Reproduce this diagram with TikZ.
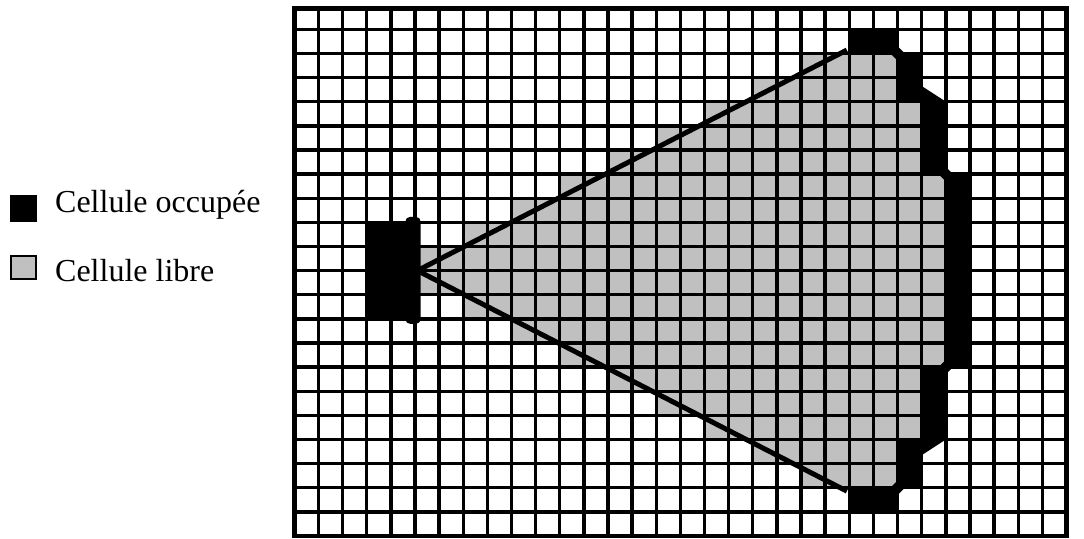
\documentclass[tikz,border=0pt]{standalone}
\usepackage{fontspec}
\setmainfont{Liberation Serif}
\definecolor{cellgray}{RGB}{192,192,192}
\tikzset{
  gridline/.style={line width=3.4pt, black},
  frameline/.style={line width=4.5pt, black},
  freecell/.style={fill=cellgray},
  occcell/.style={fill=black},
  beam/.style={line width=5pt, black},
  legtext/.style={inner sep=0pt, font=\fontsize{32}{38}\selectfont}
}
\begin{document}
\begin{tikzpicture}[x=24.13pt,y=-24.13pt]
\useasboundingbox (-12.196,-0.214) rectangle (32.727,22.123);
% free (gray) cells
\foreach \r/\a/\b in {2/21/24,3/19/24,4/17/25,5/15/25,6/13/25,7/11/26,8/9/26,9/7/26,10/5/26,11/5/26,12/7/26,13/9/26,14/11/26,15/13/25,16/15/25,17/17/25,18/19/24,19/21/24}
  \fill[freecell] (\a,\r) rectangle (\b+1,\r+1);
% grid
\foreach \j in {1,...,31} \draw[gridline] (\j,0.146) -- (\j,22);
\foreach \k in {1,...,21} \draw[gridline] (0,\k) -- (32,\k);
\draw[frameline] (0,0.146) rectangle (32,22);
% occupied cells
\fill[occcell, rounded corners=3pt] (23,1) rectangle (25.05,2.02);
\fill[occcell] (25,2) +(-0.3,0) -- +(0,-0.3) -- +(0.3,0) -- +(0,0.3) -- cycle;
\fill[occcell] (24.97,1.98) rectangle (26,4.02);
\fill[occcell] (26,3.35) -- (27,4) -- (26,4.05) -- cycle;
\fill[occcell] (26,4) rectangle (27,7);
\fill[occcell] (27,7) +(-0.3,0) -- +(0,-0.3) -- +(0.3,0) -- +(0,0.3) -- cycle;
\fill[occcell] (27,7) rectangle (28,15);
\fill[occcell] (27,15) +(-0.3,0) -- +(0,-0.3) -- +(0.3,0) -- +(0,0.3) -- cycle;
\fill[occcell] (26,15) rectangle (27,18);
\fill[occcell] (26,18.65) -- (27,18) -- (26,17.95) -- cycle;
\fill[occcell] (24.97,17.98) rectangle (26,20.02);
\fill[occcell] (25,20) +(-0.3,0) -- +(0,-0.3) -- +(0.3,0) -- +(0,0.3) -- cycle;
\fill[occcell, rounded corners=3pt] (23,19.98) rectangle (25.05,21);
% robot
\fill[occcell] (3,9) rectangle (5.05,13);
\fill[occcell, rounded corners=5pt] (4.6,8.77) rectangle (5.24,13.21);
% sensor beams
\coordinate (apex) at (5.1,11);
\coordinate (upend) at (22.9,1.86);
\coordinate (loend) at (22.9,20.14);
\draw[beam] (apex) -- (upend);
\draw[beam] (apex) -- (loend);
% legend
\fill[occcell] (-11.78,7.867) rectangle (-10.65,9.0);
\draw[freecell, line width=2.5pt] (-11.73,10.40) rectangle (-10.70,11.34);
\node[legtext, anchor=base west] (occ) at (-9.917,8.584) {Cellule occupée};
\node[legtext, anchor=base west] (lib) at (-9.917,11.47) {Cellule libre};
\end{tikzpicture}
\end{document}
